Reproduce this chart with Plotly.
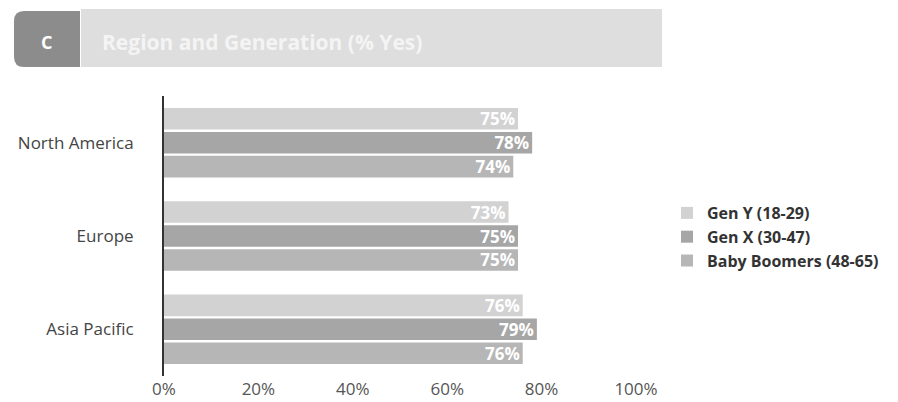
import plotly.graph_objects as go

regions = ["North America", "Europe", "Asia Pacific"]
series_names = ["Gen Y (18-29)", "Gen X (30-47)", "Baby Boomers (48-65)"]
gen_y = [75, 73, 76]
gen_x = [78, 75, 79]
boomers = [74, 75, 76]
x_ticks = [0, 20, 40, 60, 80, 100]
x_tick_labels = ["0%", "20%", "40%", "60%", "80%", "100%"]
title_text = "Region and Generation (% Yes)"
panel_letter = "C"

colors = ["#d2d2d2", "#a6a6a6", "#b6b6b6"]
FONT = "Open Sans"

W, H = 898, 402
L, T = 164, 96
R = 898 - 636
B = 402 - 376
PW, PH = W - L - R, H - T - B

def px(x):
    return (x - L) / PW

def py(y):
    return (H - B - y) / PH

fig = go.Figure()
for name, vals, col in zip(series_names, [gen_y, gen_x, boomers], colors):
    fig.add_trace(go.Bar(
        y=regions, x=vals, name=name, orientation="h",
        marker=dict(color=col, line=dict(width=0)),
        text=[f"{v}%" for v in vals], textposition="inside",
        insidetextanchor="end", constraintext="none",
        textfont=dict(color="white", size=17, family=FONT, weight="bold"),
        cliponaxis=False,
    ))

x0, x1, y0, y1 = px(14), px(80), py(67), py(11)
rx, ry = 10 / PW, 10 / PH
path = (f"M {x1},{y0} L {x0+rx},{y0} Q {x0},{y0} {x0},{y0+ry} "
        f"L {x0},{y1-ry} Q {x0},{y1} {x0+rx},{y1} L {x1},{y1} Z")
shapes = [
    dict(type="path", path=path, xref="paper", yref="paper",
         fillcolor="#8c8c8c", line=dict(width=0), layer="above"),
    dict(type="rect", xref="paper", yref="paper", x0=px(81), x1=px(662),
         y0=py(67), y1=py(9), fillcolor="#dedede", line=dict(width=0), layer="above"),
]
annotations = [
    dict(text=panel_letter, xref="paper", yref="paper", x=px(46), y=py(42),
         showarrow=False, font=dict(color="white", size=18, family=FONT, weight="bold"),
         xanchor="center", yanchor="middle"),
    dict(text=title_text, xref="paper", yref="paper", x=px(100), y=py(42),
         showarrow=False, font=dict(color="#f4f4f4", size=21, family=FONT, weight="bold"),
         xanchor="left", yanchor="middle"),
]

fig.update_layout(
    width=W, height=H,
    margin=dict(l=L, r=R, t=T, b=B, pad=0),
    paper_bgcolor="white", plot_bgcolor="white",
    barmode="group", bargap=0.23, bargroupgap=0.1,
    font=dict(family=FONT, color="#444444", size=15),
    xaxis=dict(range=[0, 100], tickvals=x_ticks, ticktext=x_tick_labels,
               showgrid=False, zeroline=False, showline=False, ticks="",
               tickfont=dict(size=17, color="#555555"), ticklabelstandoff=1,
               automargin=False),
    yaxis=dict(autorange="reversed", showgrid=False, zeroline=False,
               showline=True, linecolor="#333333", linewidth=2, ticks="",
               tickfont=dict(size=17, color="#444444"), ticklabelstandoff=25,
               automargin=False),
    legend=dict(x=px(667), y=py(237), xanchor="left", yanchor="middle",
                traceorder="normal",
                font=dict(size=16, color="#333333", family=FONT, weight="bold"),
                itemwidth=30, tracegroupgap=0, bgcolor="rgba(0,0,0,0)"),
    shapes=shapes, annotations=annotations,
    showlegend=True,
)

fig.write_html(
    "out.html",
    config={"displayModeBar": False},
    post_script="document.body.style.margin='0px';document.body.style.overflow='hidden';",
)
